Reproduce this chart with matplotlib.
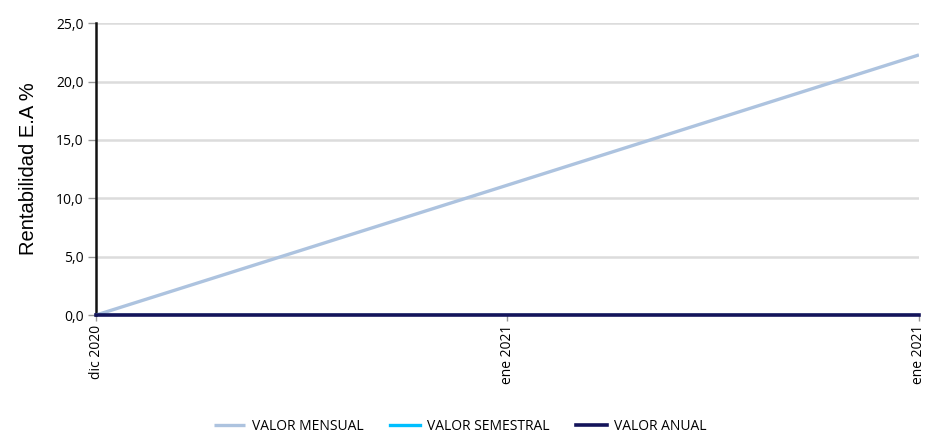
import numpy as np
import matplotlib.pyplot as plt
from matplotlib.ticker import FuncFormatter

# datos
fechas = ["dic 2020", "ene 2021", "ene 2021"]
valor_mensual = [0.0, 11.13, 22.28]
valor_semestral = [0.0, 0.0, 0.0]
valor_anual = [0.0, 0.0, 0.0]

plt.rcParams['font.family'] = ['Open Sans', 'DejaVu Sans']

fig = plt.figure(figsize=(9.26, 4.37), dpi=100)
ax = fig.add_axes([0.1037, 0.279, 0.8887, 0.668])

x = np.arange(len(fechas))
ax.plot(x, valor_mensual, color='#adc3df', lw=2.4, label='VALOR MENSUAL', solid_capstyle='butt', zorder=3)
ax.plot(x, valor_semestral, color='#00bfff', lw=2.4, label='VALOR SEMESTRAL', zorder=3)
ax.plot(x, valor_anual, color='#14145a', lw=2.6, label='VALOR ANUAL', zorder=4, clip_on=False)

ax.set_xlim(0, len(fechas) - 1)
ax.set_ylim(0, 25)
ax.set_yticks(np.arange(0, 26, 5))
ax.yaxis.set_major_formatter(FuncFormatter(lambda v, p: f"{v:.1f}".replace('.', ',')))
ax.set_xticks(x)
ax.set_xticklabels(fechas, rotation=90)

ax.grid(axis='y', color='#dcdcdc', lw=1.8)
ax.set_axisbelow(True)
for s in ['top', 'right', 'bottom']:
    ax.spines[s].set_visible(False)
ax.spines['left'].set_linewidth(1.8)
ax.spines['left'].set_color('#111111')

ax.tick_params(axis='y', length=6, width=1, color='#999999', labelsize=10, pad=3)
ax.tick_params(axis='x', length=4, width=1, color='#999999', labelsize=10, pad=3)

ax.set_ylabel('Rentabilidad E.A %', fontsize=14.5, family=['Liberation Sans'], labelpad=13)

fig.legend(loc='lower center', bbox_to_anchor=(0.497, -0.022), ncol=3, frameon=False,
           fontsize=10, handlelength=2.2, columnspacing=1.9, handletextpad=0.5)

fig.savefig('out.png', dpi=100)
